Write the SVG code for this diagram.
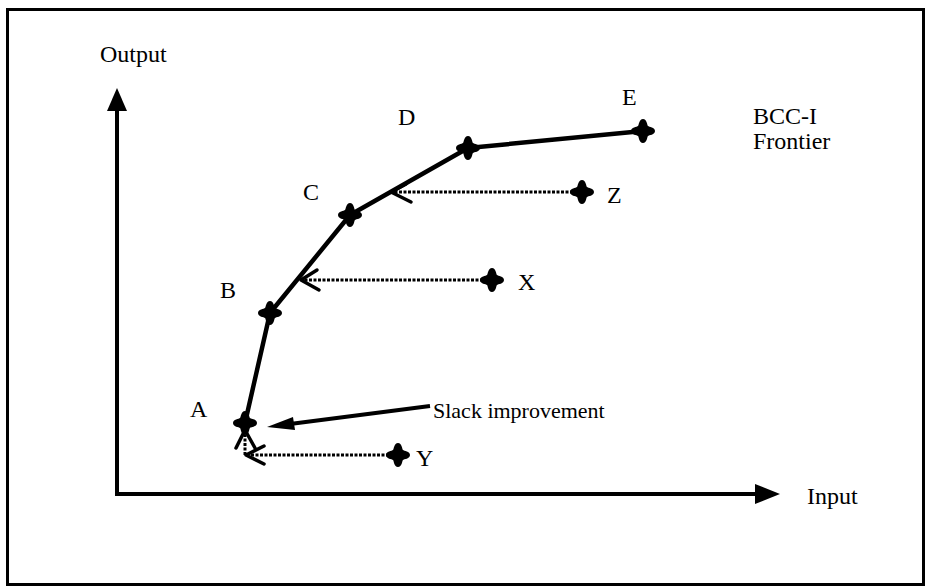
<svg xmlns="http://www.w3.org/2000/svg" xmlns:xlink="http://www.w3.org/1999/xlink" width="926" height="586" viewBox="0 0 926 586">
<style>
text{font-family:"Liberation Serif","DejaVu Serif",serif;font-size:24px;fill:#000}
.ax{stroke:#000;stroke-width:4;fill:none}
.fr{stroke:#000;stroke-width:4.5;fill:none;stroke-linejoin:round}
.dot{stroke:#000;stroke-width:3;fill:none;stroke-dasharray:3 1.5}
.oh{stroke:#000;stroke-width:3.5;fill:none;stroke-linecap:round;stroke-linejoin:round}
</style>
<defs>
<path id="m" d="M0,-12 C4,-12 4,-6 5,-5 C6,-4 12,-4 12,0 C12,4 6,4 5,5 C4,6 4,12 0,12 C-4,12 -4,6 -5,5 C-6,4 -12,4 -12,0 C-12,-4 -6,-4 -5,-5 C-4,-6 -4,-12 0,-12 Z" fill="#000"/>
</defs>
<rect x="0" y="0" width="926" height="586" fill="#fff"/>
<rect x="7.5" y="9.5" width="916" height="575" fill="none" stroke="#000" stroke-width="3"/>
<g id="axes">
<line class="ax" x1="117" y1="494" x2="117" y2="105"/>
<polygon points="117,88 107,111 127,111" fill="#000"/>
<line class="ax" x1="115" y1="494" x2="760" y2="494"/>
<polygon points="780,494 755,484 755,504" fill="#000"/>
<text x="100" y="62">Output</text>
<text x="807" y="504">Input</text>
</g>
<g id="connectors">
<polyline class="fr" points="245,423 270,313 350,215 468,148 643,131"/>
<line class="dot" x1="398" y1="455" x2="247" y2="455"/>
<polyline class="oh" points="264,446 246,455 264,464"/>
<line class="dot" x1="245" y1="455" x2="245" y2="435"/>
<polyline class="oh" points="236,448 245,430 255,448"/>
<line class="dot" x1="492" y1="280" x2="302" y2="280"/>
<polyline class="oh" points="317,270 301,280 319,290"/>
<line class="dot" x1="582" y1="192" x2="392" y2="192"/>
<polyline class="oh" points="406,184 391,192 411,202"/>
<line x1="430" y1="406" x2="290" y2="424" stroke="#000" stroke-width="4"/>
<polygon points="267,427 293,417 295,430" fill="#000"/>
</g>
<g id="A"><use xlink:href="#m" x="245" y="423"/><text x="190" y="417">A</text></g>
<g id="B"><use xlink:href="#m" x="270" y="313"/><text x="220" y="298">B</text></g>
<g id="C"><use xlink:href="#m" x="350" y="215"/><text x="303" y="200">C</text></g>
<g id="D"><use xlink:href="#m" x="468" y="148"/><text x="398" y="125">D</text></g>
<g id="E"><use xlink:href="#m" x="643" y="131"/><text x="622" y="105">E</text></g>
<g id="Z"><use xlink:href="#m" x="582" y="192"/><text x="607" y="203">Z</text></g>
<g id="X"><use xlink:href="#m" x="492" y="280"/><text x="518" y="290">X</text></g>
<g id="Y"><use xlink:href="#m" x="398" y="455"/><text x="416" y="466">Y</text></g>
<g id="slack"><text x="433" y="418" style="font-size:22px">Slack improvement</text></g>
<g id="frontier"><text x="753" y="124">BCC-I</text><text x="753" y="149">Frontier</text></g>
</svg>
